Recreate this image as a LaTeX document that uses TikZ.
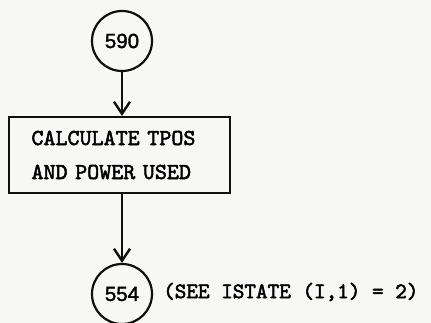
\documentclass[tikz,border=0pt]{standalone}
\usepackage{fontspec}
\newfontfamily\typew[FakeBold=2.2]{lmmono10-regular.otf}
\newfontfamily\numfont[FakeBold=1.6]{Liberation Sans}
\usetikzlibrary{arrows.meta}
\definecolor{bgcol}{RGB}{247,247,246}
\definecolor{ink}{RGB}{15,15,15}
\begin{document}
\begin{tikzpicture}[x=1pt,y=-1pt,
  conn/.style={circle,draw=ink,line width=2.2pt,minimum size=60pt,inner sep=0pt,
    font=\numfont\fontsize{20.5}{20.5}\selectfont},
  procbox/.style={draw=ink,line width=2.2pt,minimum width=221pt,minimum height=76pt,
    text width=176pt,inner xsep=22.5pt,inner ysep=0pt,align=left,
    font=\typew\fontsize{22.9}{34}\selectfont},
  note/.style={anchor=west,inner sep=0pt,font=\typew\fontsize{22.1}{22}\selectfont},
  flow/.style={draw=ink,line width=2.8pt,-{Straight Barb[length=12pt,width=16pt,line width=2.4pt]}}]
\fill[bgcol] (0,0) rectangle (431,323);
\useasboundingbox (0,0) rectangle (431,323);
\node[conn] (c590) at (122,41) {590};
\node[procbox] (calc) at (119.5,155) {CALCULATE TPOS\\AND POWER USED};
\node[conn] (c554) at (122,294) {554};
\node[note] (see) at (163,292) {(SEE ISTATE (I,1) = 2)};
\draw[flow] (c590.south) -- (c590.south |- calc.north);
\draw[flow] (c590.south |- calc.south) -- (c554.north);
\end{tikzpicture}
\end{document}
